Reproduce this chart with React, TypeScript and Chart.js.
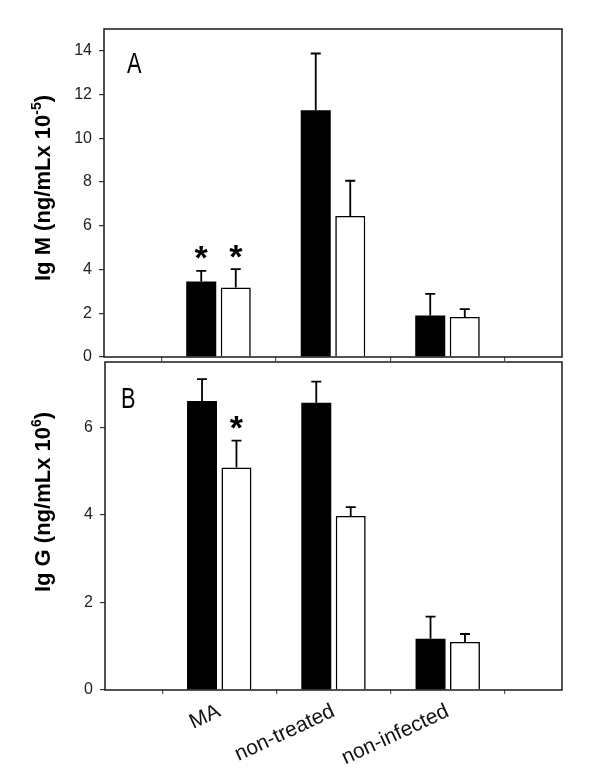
import React, { useEffect, useRef } from 'react';
import { Chart, registerables } from 'chart.js';

Chart.register(...registerables);

// ---- data ----
const categories = ['MA', 'non-treated', 'non-infected'];

// Panel A: Ig M (ng/mL x 10^-5)
const igmBlack = [3.45, 11.29, 1.9];
const igmBlackSd = [0.49, 2.59, 0.99];
const igmWhite = [3.18, 6.45, 1.83];
const igmWhiteSd = [0.84, 1.61, 0.36];
const igmBlackStar = [true, false, false];
const igmWhiteStar = [true, false, false];
const igmTicks = [0, 2, 4, 6, 8, 10, 12, 14];

// Panel B: Ig G (ng/mL x 10^6)
const iggBlack = [6.61, 6.57, 1.17];
const iggBlackSd = [0.5, 0.48, 0.51];
const iggWhite = [5.09, 3.98, 1.1];
const iggWhiteSd = [0.61, 0.2, 0.18];
const iggBlackStar = [false, false, false];
const iggWhiteStar = [true, false, false];
const iggTicks = [0, 2, 4, 6];

const FONT = "'Liberation Sans', Arial, Helvetica, sans-serif";

const pad = (arr: any[]) => [null, ...arr, null];

const extrasPlugin = {
  id: 'extras',
  afterDatasetsDraw(chart: any, _args: any, opts: any) {
    const ctx = chart.ctx;
    const y = chart.scales.y;
    ctx.save();
    chart.data.datasets.forEach((ds: any, i: number) => {
      const meta = chart.getDatasetMeta(i);
      const sd = opts.sd[i];
      const stars = opts.stars[i];
      meta.data.forEach((el: any, j: number) => {
        const v = ds.data[j];
        if (v === null || v === undefined) return;
        const k = j - 1;
        const topPx = y.getPixelForValue(v + sd[k]);
        ctx.strokeStyle = '#000';
        ctx.lineWidth = 1.8;
        ctx.beginPath();
        ctx.moveTo(el.x, el.y);
        ctx.lineTo(el.x, topPx);
        ctx.moveTo(el.x - 5, topPx);
        ctx.lineTo(el.x + 5, topPx);
        ctx.stroke();
        if (stars[k]) {
          ctx.font = `bold 34px ${FONT}`;
          ctx.fillStyle = '#000';
          ctx.textAlign = 'center';
          ctx.textBaseline = 'alphabetic';
          const m = ctx.measureText('*');
          const center = topPx - 18;
          const base = center + (m.actualBoundingBoxAscent - m.actualBoundingBoxDescent) / 2;
          ctx.fillText('*', el.x, base);
        }
      });
    });
    ctx.restore();
  },
  afterDraw(chart: any, _args: any, opts: any) {
    const ctx = chart.ctx;
    const a = chart.chartArea;
    ctx.save();
    // frame
    ctx.strokeStyle = '#1a1a1a';
    ctx.lineWidth = 1.5;
    ctx.strokeRect(a.left, a.top, a.right - a.left, a.bottom - a.top);
    // panel letter
    ctx.save();
    ctx.translate(opts.letterX, opts.letterY);
    ctx.scale(0.75, 1);
    ctx.font = `29px ${FONT}`;
    ctx.fillStyle = '#000';
    ctx.textAlign = 'left';
    ctx.textBaseline = 'alphabetic';
    ctx.fillText(opts.letter, 0, 0);
    ctx.restore();
    // y-axis title with superscript
    ctx.save();
    ctx.translate(opts.titleX, opts.titleY);
    ctx.rotate(-Math.PI / 2);
    ctx.fillStyle = '#000';
    ctx.textBaseline = 'alphabetic';
    ctx.textAlign = 'left';
    const mainFont = `bold 22px ${FONT}`;
    const supFont = `bold 14px ${FONT}`;
    ctx.font = mainFont;
    const w1 = ctx.measureText(opts.title1).width;
    const w3 = ctx.measureText(')').width;
    ctx.font = supFont;
    const w2 = ctx.measureText(opts.sup).width;
    const total = w1 + w2 + w3;
    let x = -total / 2;
    ctx.font = mainFont;
    ctx.fillText(opts.title1, x, 0);
    x += w1;
    ctx.font = supFont;
    ctx.fillText(opts.sup, x, -9);
    x += w2;
    ctx.font = mainFont;
    ctx.fillText(')', x, 0);
    ctx.restore();
    ctx.restore();
  },
};

type PanelProps = {
  top: number;
  height: number;
  padTop: number;
  yWidth: number;
  xHeight: number;
  max: number;
  ticks: number[];
  black: number[];
  blackSd: number[];
  white: number[];
  whiteSd: number[];
  blackStar: boolean[];
  whiteStar: boolean[];
  showLabels: boolean;
  letter: string;
  letterX: number;
  letterY: number;
  title1: string;
  sup: string;
  titleX: number;
  titleY: number;
};

function Panel(p: PanelProps) {
  const ref = useRef<HTMLCanvasElement | null>(null);
  useEffect(() => {
    if (!ref.current) return;
    const chart = new Chart(ref.current, {
      type: 'bar',
      data: {
        labels: ['', ...categories, ''],
        datasets: [
          {
            data: pad(p.black),
            backgroundColor: '#000',
            borderColor: '#000',
            borderWidth: 0,
          },
          {
            data: pad(p.white),
            backgroundColor: '#fff',
            borderColor: '#000',
            borderWidth: 1.6,
          },
        ],
      },
      options: {
        responsive: false,
        animation: false,
        devicePixelRatio: 1,
        categoryPercentage: 0.603,
        barPercentage: 0.87,
        layout: { padding: { top: p.padTop, right: 38, left: 0, bottom: 0 } },
        plugins: {
          legend: { display: false },
          tooltip: { enabled: false },
          extras: {
            sd: [p.blackSd, p.whiteSd],
            stars: [p.blackStar, p.whiteStar],
            letter: p.letter,
            letterX: p.letterX,
            letterY: p.letterY,
            title1: p.title1,
            sup: p.sup,
            titleX: p.titleX,
            titleY: p.titleY,
          },
        } as any,
        scales: {
          x: {
            type: 'category',
            offset: false,
            border: { display: false },
            grid: {
              display: true,
              drawOnChartArea: false,
              drawTicks: true,
              tickLength: 4,
              color: '#555',
              lineWidth: 1.2,
            },
            ticks: {
              display: p.showLabels,
              autoSkip: false,
              minRotation: 25,
              maxRotation: 25,
              padding: 5,
              color: '#111',
              font: { family: FONT, size: 21 },
            },
            afterFit: (s: any) => {
              s.height = p.xHeight;
              s.paddingLeft = 0;
              s.paddingRight = 0;
            },
          },
          y: {
            type: 'linear',
            min: 0,
            max: p.max,
            border: { display: false },
            grid: {
              display: true,
              drawOnChartArea: false,
              drawTicks: true,
              tickLength: 5,
              color: '#333',
              lineWidth: 1.2,
            },
            afterBuildTicks: (s: any) => {
              s.ticks = p.ticks.map((v) => ({ value: v }));
            },
            ticks: {
              padding: 7,
              color: '#222',
              font: { family: FONT, size: 16 },
            },
            afterFit: (s: any) => {
              s.width = p.yWidth;
              s.paddingTop = 0;
              s.paddingBottom = 0;
            },
          },
        },
      } as any,
      plugins: [extrasPlugin],
    });
    return () => chart.destroy();
  }, []);
  return (
    <canvas
      ref={ref}
      width={600}
      height={p.height}
      style={{ position: 'absolute', left: 0, top: p.top, width: 600, height: p.height }}
    />
  );
}

export default function App() {
  return (
    <div
      style={{
        position: 'fixed',
        left: 0,
        top: 0,
        width: 600,
        height: 784,
        background: '#fff',
        overflow: 'hidden',
      }}
    >
      <Panel
        top={0}
        height={362}
        padTop={29}
        yWidth={104}
        xHeight={5}
        max={15}
        ticks={igmTicks}
        black={igmBlack}
        blackSd={igmBlackSd}
        white={igmWhite}
        whiteSd={igmWhiteSd}
        blackStar={igmBlackStar}
        whiteStar={igmWhiteStar}
        showLabels={false}
        letter="A"
        letterX={127}
        letterY={73}
        title1="Ig M (ng/mLx 10"
        sup="-5"
        titleX={50}
        titleY={188}
      />
      <Panel
        top={355}
        height={429}
        padTop={7}
        yWidth={105}
        xHeight={94}
        max={7.5}
        ticks={iggTicks}
        black={iggBlack}
        blackSd={iggBlackSd}
        white={iggWhite}
        whiteSd={iggWhiteSd}
        blackStar={iggBlackStar}
        whiteStar={iggWhiteStar}
        showLabels={true}
        letter="B"
        letterX={121}
        letterY={53}
        title1="Ig G (ng/mLx 10"
        sup="6"
        titleX={50}
        titleY={147}
      />
    </div>
  );
}
